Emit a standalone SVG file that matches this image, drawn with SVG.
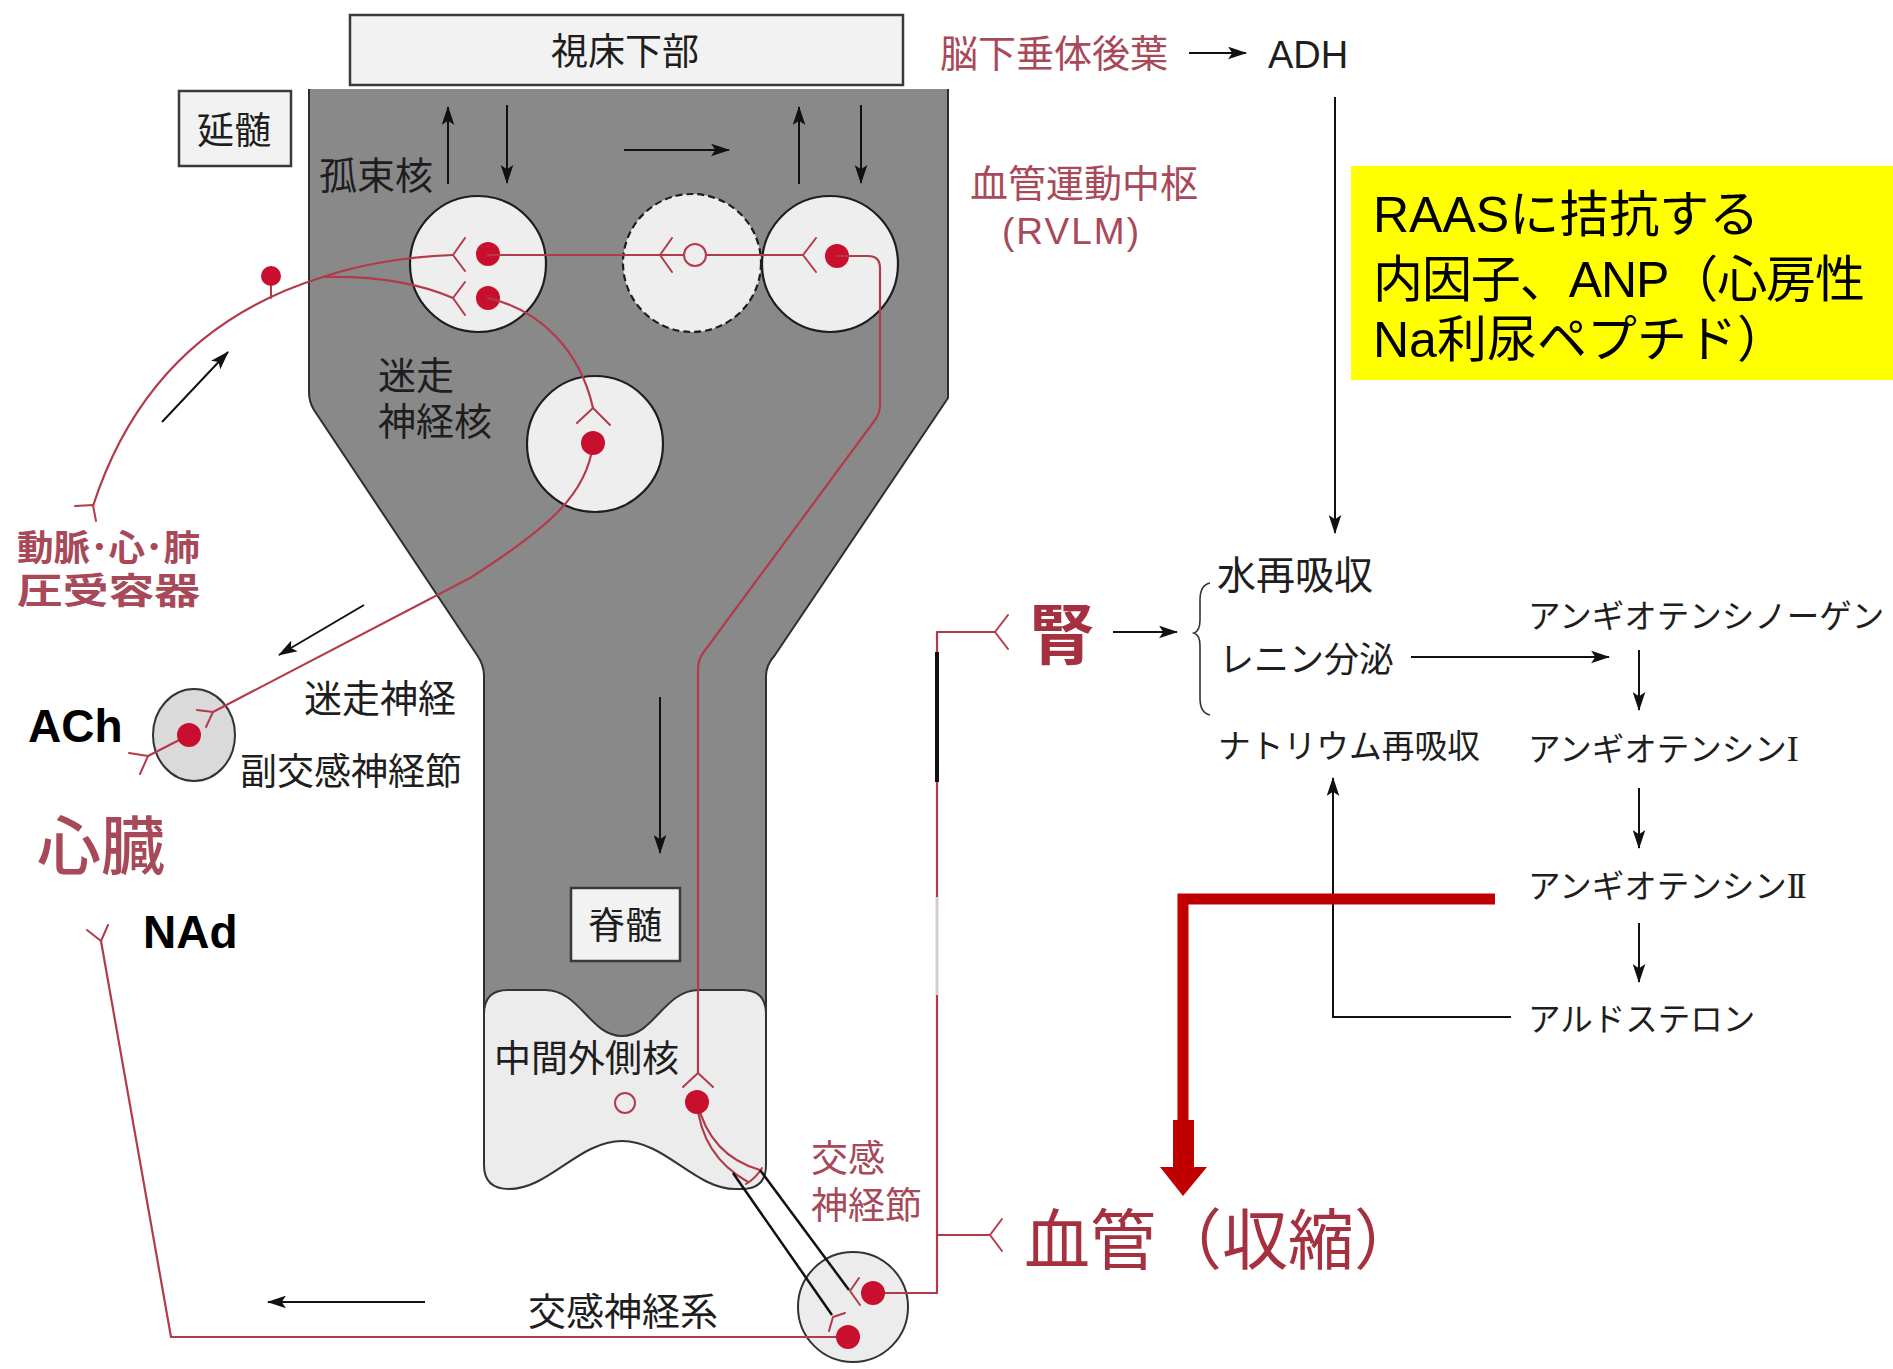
<svg xmlns="http://www.w3.org/2000/svg" width="1893" height="1369" viewBox="0 0 1893 1369">
<defs>
<style>
.jp{font-family:"Noto Sans CJK JP","Noto Sans CJK SC",sans-serif;fill:#1e1e1e}
.lat{font-family:"Liberation Sans","Noto Sans CJK JP",sans-serif}
.red1{fill:#a5303f}
.red2{fill:#a8495a}
.box{fill:#f2f2f2;stroke:#3a3a3a;stroke-width:2.5}
.nuc{fill:#eeeeee;stroke:#1e1e1e;stroke-width:2.2}
.fib{fill:none;stroke:#b23b4a;stroke-width:2.2;stroke-linecap:round;stroke-linejoin:round}
.syn{fill:none;stroke:#b23b4a;stroke-width:2;stroke-linecap:round;stroke-linejoin:round}
.dot{fill:#c8102e}
.arr{fill:none;stroke:#111;stroke-width:2;marker-end:url(#ah)}
.blk{fill:none;stroke:#111;stroke-width:2.5}
</style>
<marker id="ah" viewBox="0 0 18 12" refX="17" refY="6" markerWidth="19" markerHeight="13" markerUnits="userSpaceOnUse" orient="auto">
<path d="M0,0 L18,6 L0,12 L4,6 z" fill="#111"/>
</marker>
</defs>
<rect width="1893" height="1369" fill="#ffffff"/>

<!-- brain stem and spinal cord silhouette -->
<g id="brainstem">
<path d="M309 89 H948 V398 L775 655 Q766 665 766 676 V1060 H484 V676 Q484 665 477 655 L314 410 Q309 402 309 392 Z" fill="#898989"/>
<path d="M309 89 V392 Q309 402 314 410 L477 655 Q484 665 484 676 V1020 M948 89 V398 L775 655 Q766 665 766 676 V1020" fill="none" stroke="#2e2e2e" stroke-width="2"/>
</g>

<g id="iml">
<path d="M484 1014 Q484 990 508 990 L545 990 C580 990 590 1036 622 1036 C654 1036 664 990 699 990 L742 990 Q766 990 766 1014 L766 1165 Q766 1189 742 1189 L735 1189 C695 1189 665 1141 622 1141 C579 1141 549 1189 509 1189 Q484 1189 484 1165 Z" fill="#ececec" stroke="#333" stroke-width="2"/>
<text class="jp" x="494" y="1072" font-size="37">中間外側核</text>
<circle cx="625" cy="1103" r="10" fill="#ececec" stroke="#b23b4a" stroke-width="2"/>
</g>

<g id="hypothalamus">
<rect class="box" x="350" y="15" width="553" height="70"/>
<text class="jp" x="625" y="65" font-size="37" text-anchor="middle">視床下部</text>
</g>

<g id="medulla-label">
<rect class="box" x="179" y="91" width="112" height="75"/>
<text class="jp" x="234" y="144" font-size="37" text-anchor="middle">延髄</text>
</g>

<g id="spinal-label">
<rect class="box" x="571" y="888" width="109" height="73"/>
<text class="jp" x="625" y="939" font-size="37" text-anchor="middle">脊髄</text>
</g>

<g id="nts">
<circle class="nuc" cx="478" cy="264" r="68"/>
<text class="jp" x="319" y="189" font-size="38">孤束核</text>
</g>

<g id="interneuron">
<circle class="nuc" cx="692" cy="263" r="69" stroke-dasharray="7 4"/>
</g>

<g id="rvlm">
<circle class="nuc" cx="830" cy="264" r="68"/>
<text class="jp red2" x="970" y="197" font-size="38">血管運動中枢</text>
<text class="lat red2" x="1002" y="244" font-size="37" textLength="137" lengthAdjust="spacing">(RVLM)</text>
</g>

<g id="vagal-nucleus">
<circle class="nuc" cx="595" cy="444" r="68"/>
<text class="jp" x="378" y="389" font-size="38">迷走</text>
<text class="jp" x="378" y="435" font-size="38">神経核</text>
</g>

<g id="baroreceptor">
<text class="jp red2" x="17" y="561" font-size="36" font-weight="bold" textLength="183" lengthAdjust="spacingAndGlyphs">動脈･心･肺</text>
<text class="jp red2" x="17" y="604" font-size="36" font-weight="bold" textLength="183" lengthAdjust="spacingAndGlyphs">圧受容器</text>
</g>

<g id="para-ganglion">
<ellipse cx="194" cy="735" rx="41" ry="46" fill="#dadada" stroke="#333" stroke-width="2"/>
<text class="jp" x="304" y="712" font-size="38">迷走神経</text>
<text class="jp" x="240" y="785" font-size="37">副交感神経節</text>
</g>

<g id="heart">
<text class="jp red2" x="37" y="869" font-size="64" font-weight="500">心臓</text>
<text class="lat" x="28" y="742" font-size="46" font-weight="bold" fill="#000">ACh</text>
<text class="lat" x="143" y="948" font-size="46" font-weight="bold" fill="#000">NAd</text>
</g>

<g id="symp-ganglion">
<circle cx="853" cy="1307" r="55" fill="#ececec" stroke="#333" stroke-width="2"/>
<text class="jp red2" x="811" y="1172" font-size="37">交感</text>
<text class="jp red2" x="811" y="1219" font-size="37">神経節</text>
<text class="jp" x="528" y="1325" font-size="38">交感神経系</text>
</g>

<g id="pituitary">
<text class="jp red2" x="940" y="67" font-size="38">脳下垂体後葉</text>
<text class="lat" x="1268" y="68" font-size="38" fill="#1e1e1e">ADH</text>
</g>

<g id="kidney">
<text class="jp red1" x="1029" y="659" font-size="66" font-weight="bold">腎</text>
<path d="M1210 583 Q1200 585 1200 600 V620 Q1200 631 1194 633 Q1200 635 1200 646 V698 Q1200 713 1210 715" fill="none" stroke="#333" stroke-width="1.6"/>
<text class="jp" x="1217" y="589" font-size="39">水再吸収</text>
<text class="jp" x="1219" y="672" font-size="35">レニン分泌</text>
<text class="jp" x="1218" y="758" font-size="33" textLength="262" lengthAdjust="spacingAndGlyphs">ナトリウム再吸収</text>
</g>

<g id="renal-cascade">
<text class="jp" x="1528" y="628" font-size="32.5">アンギオテンシノーゲン</text>
<text class="jp" x="1528" y="761" font-size="32.5">アンギオテンシン<tspan font-family="Liberation Serif, serif" font-size="36">I</tspan></text>
<text class="jp" x="1528" y="898" font-size="32.5">アンギオテンシン<tspan font-family="Liberation Serif, serif" font-size="36" letter-spacing="-4">II</tspan></text>
<text class="jp" x="1528" y="1031" font-size="32.5">アルドステロン</text>
</g>

<g id="vessel">
<text class="jp red1" x="1024" y="1264" font-size="66">血管（収縮）</text>
</g>

<g id="raas-note">
<rect x="1351" y="166" width="542" height="214" fill="#ffff00"/>
<text class="lat" x="1373" y="232" font-size="50" fill="#000">RAASに拮抗する</text>
<text class="lat" x="1373" y="297" font-size="50" fill="#000" textLength="492" lengthAdjust="spacing">内因子、ANP（心房性</text>
<text class="lat" x="1373" y="357" font-size="50" fill="#000">Na利尿ペプチド）</text>
</g>

<g id="connectors">
<!-- black flow arrows -->
<path class="arr" d="M448 184 V107"/>
<path class="arr" d="M507 105 V183"/>
<path class="arr" d="M624 150 H729"/>
<path class="arr" d="M799 184 V107"/>
<path class="arr" d="M861 105 V183"/>
<path class="arr" d="M162 422 L228 352"/>
<path class="arr" d="M364 605 L279 655"/>
<path class="arr" d="M660 697 V853"/>
<path class="arr" d="M425 1302 H268"/>
<path class="arr" d="M1189 53 H1246" stroke-width="2.5"/>
<path class="arr" d="M1113 632 H1177"/>
<path class="arr" d="M1411 657 H1609"/>
<path class="arr" d="M1335 97 V533" stroke-width="1.6"/>
<path class="arr" d="M1639 650 V710"/>
<path class="arr" d="M1639 788 V848"/>
<path class="arr" d="M1639 923 V982"/>
<path class="arr" d="M1511 1017 H1333 V778" stroke-width="1.6"/>

<!-- baroreceptor afferent -->
<path class="fib" d="M93 506 Q150 330 323 277"/>
<path class="fib" d="M323 277 Q380 258 453 255"/>
<path class="fib" d="M323 277 Q400 275 453 298"/>
<path class="syn" d="M75 506 L93 505 L96 521"/>
<path class="syn" d="M271 286 V298"/>
<circle class="dot" cx="271" cy="276" r="10"/>
<path class="syn" d="M465 238 L453 255 L465 271"/>
<path class="syn" d="M465 282 L453 298 L465 315"/>
<circle class="dot" cx="488" cy="254" r="12"/>
<circle class="dot" cx="488" cy="298" r="12"/>

<!-- NTS to RVLM via interneuron -->
<path class="fib" d="M488 255 H684"/>
<path class="fib" d="M706 255 H803"/>
<path class="syn" d="M672 238 L660 255 L672 272"/>
<circle cx="695" cy="255" r="11" fill="#eeeeee" stroke="#b23b4a" stroke-width="2"/>
<path class="syn" d="M816 238 L803 255 L816 272"/>
<circle class="dot" cx="837" cy="256" r="12"/>

<!-- NTS to vagal nucleus, vagal efferent -->
<path class="fib" d="M488 298 C540 310 580 350 593 408"/>
<path class="syn" d="M577 423 L593 408 L610 425"/>
<path class="fib" d="M593 443 C588 495 545 530 470 578 L213 712"/>
<circle class="dot" cx="593" cy="443" r="12"/>
<path class="syn" d="M197 710 L213 712 L206 727"/>
<path class="fib" d="M189 735 L148 756"/>
<path class="syn" d="M129 753 L148 756 L140 774"/>
<circle class="dot" cx="189" cy="735" r="12"/>

<!-- RVLM descending to intermediolateral nucleus -->
<path class="fib" d="M837 256 H868 Q880 256 880 268 V405 Q880 413 875 420 L703 653 Q698 660 698 670 V1073"/>
<path class="syn" d="M683 1087 L698 1073 L713 1087"/>

<!-- preganglionic fibres -->
<path class="fib" d="M697 1102 C705 1135 725 1160 760 1170"/>
<path class="fib" d="M697 1102 C700 1140 718 1165 748 1182"/>
<path class="syn" d="M746 1184 Q756 1178 762 1168"/>
<path class="blk" d="M733 1173 L832 1315"/>
<path class="blk" d="M760 1170 L849 1290"/>
<circle class="dot" cx="697" cy="1102" r="12"/>
<path class="syn" d="M859 1278 L850 1291 L860 1305"/>
<path class="syn" d="M845 1313 L833 1317 L829 1331"/>

<!-- postganglionic fibres -->
<path class="fib" d="M873 1293 H937 V632 H995"/>
<path class="syn" d="M1008 615 L995 632 L1008 649"/>
<path class="fib" d="M937 1235 H990"/>
<path class="syn" d="M1002 1219 L990 1235 L1002 1251"/>
<path d="M937 652 V782" stroke="#111" stroke-width="4"/>
<path d="M937 897 V995" stroke="#cfcfcf" stroke-width="2.5"/>
<path class="fib" d="M848 1337 H171 L101 941"/>
<path class="syn" d="M87 930 L101 941 L108 925"/>
<circle class="dot" cx="873" cy="1293" r="12"/>
<circle class="dot" cx="848" cy="1337" r="12"/>

<!-- angiotensin II to vessel -->
<path d="M1495 899 H1183 V1122" fill="none" stroke="#c00000" stroke-width="11"/>
<rect x="1173" y="1120" width="21" height="48" fill="#c00000"/>
<polygon points="1160,1167 1207,1167 1183,1196" fill="#c00000"/>
</g>
</svg>
